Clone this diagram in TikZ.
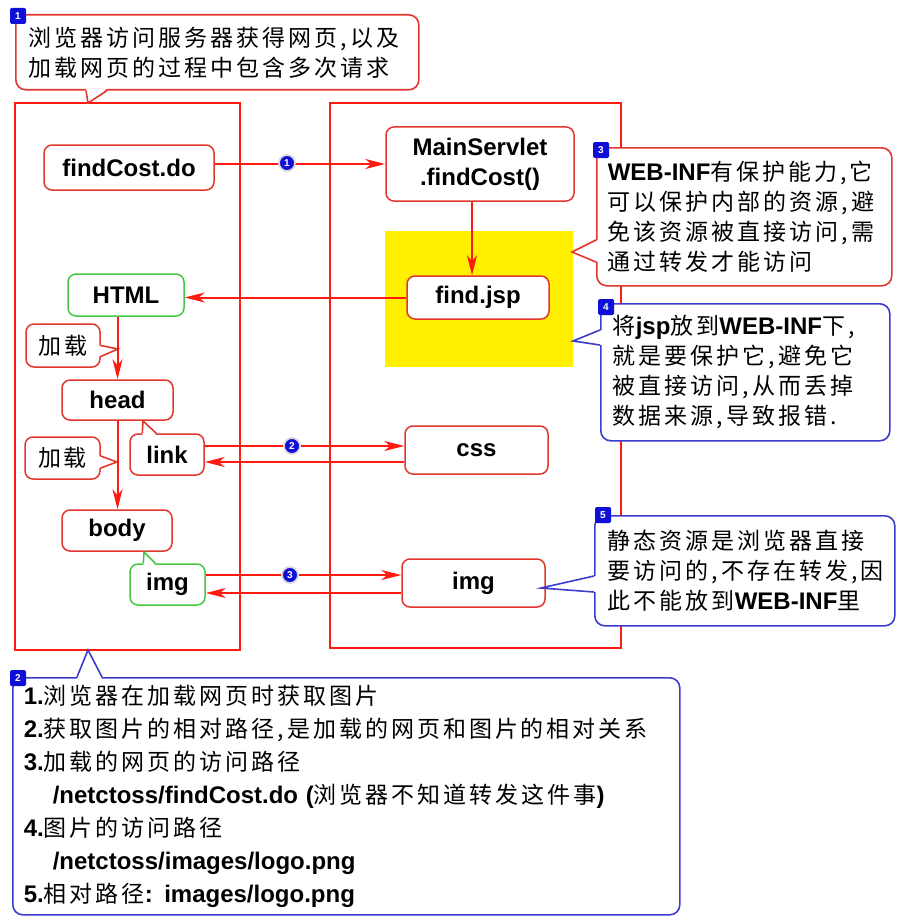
\documentclass[tikz,border=0pt]{standalone}
\usepackage{fontspec}
\setmainfont{Liberation Sans}
\newfontfamily\zhfont[LetterSpace=13]{Noto Sans CJK SC}
\usetikzlibrary{arrows.meta,calc}

\definecolor{boxred}{RGB}{225,55,45}
\definecolor{linered}{RGB}{255,25,15}
\definecolor{boxgreen}{RGB}{70,200,70}
\definecolor{noteblue}{RGB}{60,60,205}
\definecolor{badgeblue}{RGB}{15,15,215}
\definecolor{markyellow}{RGB}{255,240,0}

\newcommand\zh[1]{{\zhfont #1}}
\newcommand\en[1]{{\fontsize{24}{30}\selectfont\bfseries #1}}

% callout pointer: colour, base, tip, base, inward shift
\newcommand\pointer[5]{%
  \fill[white] ($#2+#5$) -- ($#3$) -- ($#4+#5$) -- cycle;
  \draw[#1, line width=1.6pt, line join=miter] ($#2$) -- ($#3$) -- ($#4$);}

\tikzset{
  wall/.style={draw=linered, line width=2.5pt},
  box/.style={draw=boxred, line width=1.5pt, rounded corners=8pt, fill=white, inner sep=0pt,
    align=center, font=\bfseries\fontsize{24}{30}\selectfont},
  greenbox/.style={box, draw=boxgreen},
  loadbox/.style={box, font=\zhfont\fontsize{23}{28}\selectfont},
  flow/.style={draw=linered, line width=2pt, -{Stealth[length=20pt,width=10pt,inset=6pt]}},
  note/.style={draw=#1, line width=1.6pt, rounded corners=10pt, fill=white, anchor=north west,
    align=left, inner ysep=0pt, font=\fontsize{23}{30}\selectfont},
  notetag/.style={fill=badgeblue, text=white, rounded corners=1.5pt, minimum size=16pt,
    inner sep=0pt, font=\bfseries\fontsize{10}{10}\selectfont},
  seqdot/.style={circle, fill=badgeblue, draw=black!15, line width=1.8pt, text=white,
    minimum size=16pt, inner sep=0pt, font=\bfseries\fontsize{10}{10}\selectfont},
}

\begin{document}
\begin{tikzpicture}[x=1pt,y=-1pt]
    \useasboundingbox (0,0) rectangle (903,923);

    % browser side and server side
    \draw[wall] (15,103) rectangle (240,650);
    \draw[wall] (330,103) rectangle (621,648);
    \fill[markyellow] (385,231) rectangle (573,367); % WEB-INF

    % browser
    \node[box, minimum width=170pt, minimum height=45pt] (fc) at (129,167.5) {findCost.do};
    \node[greenbox, minimum width=116pt, minimum height=42pt] (html) at (126,295) {HTML};
    \node[box, minimum width=111pt, minimum height=40pt] (head) at (117.5,400) {head};
    \node[box, minimum width=74pt, minimum height=41pt] (link) at (167,454.5) {link};
    \node[box, minimum width=110pt, minimum height=41pt] (body) at (117,530.5) {body};
    \node[greenbox, minimum width=75pt, minimum height=41pt] (imgb) at (167.5,584.5) {img};
    \node[loadbox, minimum width=74pt, minimum height=43pt] (load1) at (63,345.5) {加载};
    \node[loadbox, minimum width=75pt, minimum height=42pt] (load2) at (62.5,458) {加载};

    % server
    \node[box, minimum width=188pt, minimum height=74pt] (ms) at (480,164) {MainServlet\\.findCost()};
    \node[box, minimum width=142pt, minimum height=43pt] (jsp) at (478,297.5) {find.jsp};
    \node[box, minimum width=143pt, minimum height=48pt] (css) at (476.5,450) {css};
    \node[box, minimum width=143pt, minimum height=48pt] (imgs) at (473.5,583) {img};

    \pointer{boxred}{(load1.east)}{(118,349)}{(load1.east)+(0,11)}{(-2,0)}
    \pointer{boxred}{(load2.east)+(0,-2)}{(117,462)}{(load2.east)+(0,10)}{(-2,0)}
    \pointer{boxred}{(link.north west)+(13,0)}{(143,421)}{(link.north west)+(27,0)}{(0,2)}
    \pointer{boxgreen}{(imgb.north west)+(14,0)}{(144,552)}{(imgb.north west)+(26,0)}{(0,2)}

    % requests
    \coordinate (msout) at ($(ms.south)+(-8,0)$);
    \coordinate (linkout) at ($(link.east)+(0,-8.5)$);
    \coordinate (linkin) at ($(link.east)+(0,7.5)$);
    \coordinate (imgout) at ($(imgb.east)+(0,-9.5)$);
    \coordinate (imgin) at ($(imgb.east)+(0,8.5)$);
    \draw[flow] (fc.east |- ms.west) -- (ms.west);
    \draw[flow] (msout) -- (msout |- jsp.north);
    \draw[flow] (jsp.west) -- (jsp.west -| html.east);
    \draw[flow] (html.south -| head.north) -- (head.north);
    \draw[flow] (head.south) -- (head.south |- body.north);
    \draw[flow] (linkout) -- (linkout -| css.west);
    \draw[flow] (linkin -| css.west) -- (linkin);
    \draw[flow] (imgout) -- (imgout -| imgs.west);
    \draw[flow] (imgin -| imgs.west) -- (imgin);
    \node[seqdot] (s1) at (287,163) {1};
    \node[seqdot] (s2) at (292,446) {2};
    \node[seqdot] (s3) at (290,575) {3};

    % notes
    \node[note=boxred, minimum width=403pt, minimum height=75pt, inner xsep=13pt, text width=377pt] (c1) at (15,14)
        {\zh{浏览器访问服务器获得网页,以及}\\\zh{加载网页的过程中包含多次请求}};
    \pointer{boxred}{(c1.south west)+(71,0)}{(88,103)}{(c1.south west)+(92,0)}{(0,-2)}
    \node[note=boxred, minimum width=295pt, minimum height=138pt, inner xsep=11pt, text width=273pt] (c3) at (596,147)
        {\en{WEB-INF}\zh{有保护能力,它}\\\zh{可以保护内部的资源,避}\\\zh{免该资源被直接访问,需}\\\zh{通过转发才能访问}};
    \pointer{boxred}{(c3.north west)+(0,93)}{(572,252)}{(c3.north west)+(0,115)}{(2,0)}
    \node[note=noteblue, minimum width=289pt, minimum height=137pt, inner xsep=12pt, text width=265pt] (c4) at (600,303)
        {\zh{将}\en{jsp}\zh{放到}\en{WEB-INF}\zh{下,}\\\zh{就是要保护它,避免它}\\\zh{被直接访问,从而丢掉}\\\zh{数据来源,导致报错.}};
    \pointer{noteblue}{(c4.north west)+(0,27)}{(573,341)}{(c4.north west)+(0,42)}{(2,0)}
    \node[note=noteblue, minimum width=300pt, minimum height=110pt, inner xsep=13pt, text width=274pt] (c5) at (594,515)
        {\zh{静态资源是浏览器直接}\\\zh{要访问的,不存在转发,因}\\\zh{此不能放到}\en{WEB-INF}\zh{里}};
    \pointer{noteblue}{(c5.north west)+(0,61)}{(541,588)}{(c5.north west)+(0,77)}{(2,0)}
    \node[note=noteblue, minimum width=667pt, minimum height=237pt, inner xsep=11pt, text width=645pt,
          font=\fontsize{23}{33}\selectfont] (c2) at (12,677)
        {\en{1.}\zh{浏览器在加载网页时获取图片}\\
         \en{2.}\zh{获取图片的相对路径,是加载的网页和图片的相对关系}\\
         \en{3.}\zh{加载的网页的访问路径}\\
         \hspace*{29pt}\en{/netctoss/findCost.do (}\zh{浏览器不知道转发这件事}\en{)}\\
         \en{4.}\zh{图片的访问路径}\\
         \hspace*{29pt}\en{/netctoss/images/logo.png}\\
         \en{5.}\zh{相对路径}\en{: images/logo.png}};
    \pointer{noteblue}{(c2.north west)+(65,0)}{(88,650)}{(c2.north west)+(90,0)}{(0,2)}

    \node[notetag] (t1) at (18,16) {1};
    \node[notetag] (t2) at (18,678) {2};
    \node[notetag] (t3) at (601,150) {3};
    \node[notetag] (t4) at (606,307) {4};
    \node[notetag] (t5) at (603,515) {5};
\end{tikzpicture}
\end{document}
